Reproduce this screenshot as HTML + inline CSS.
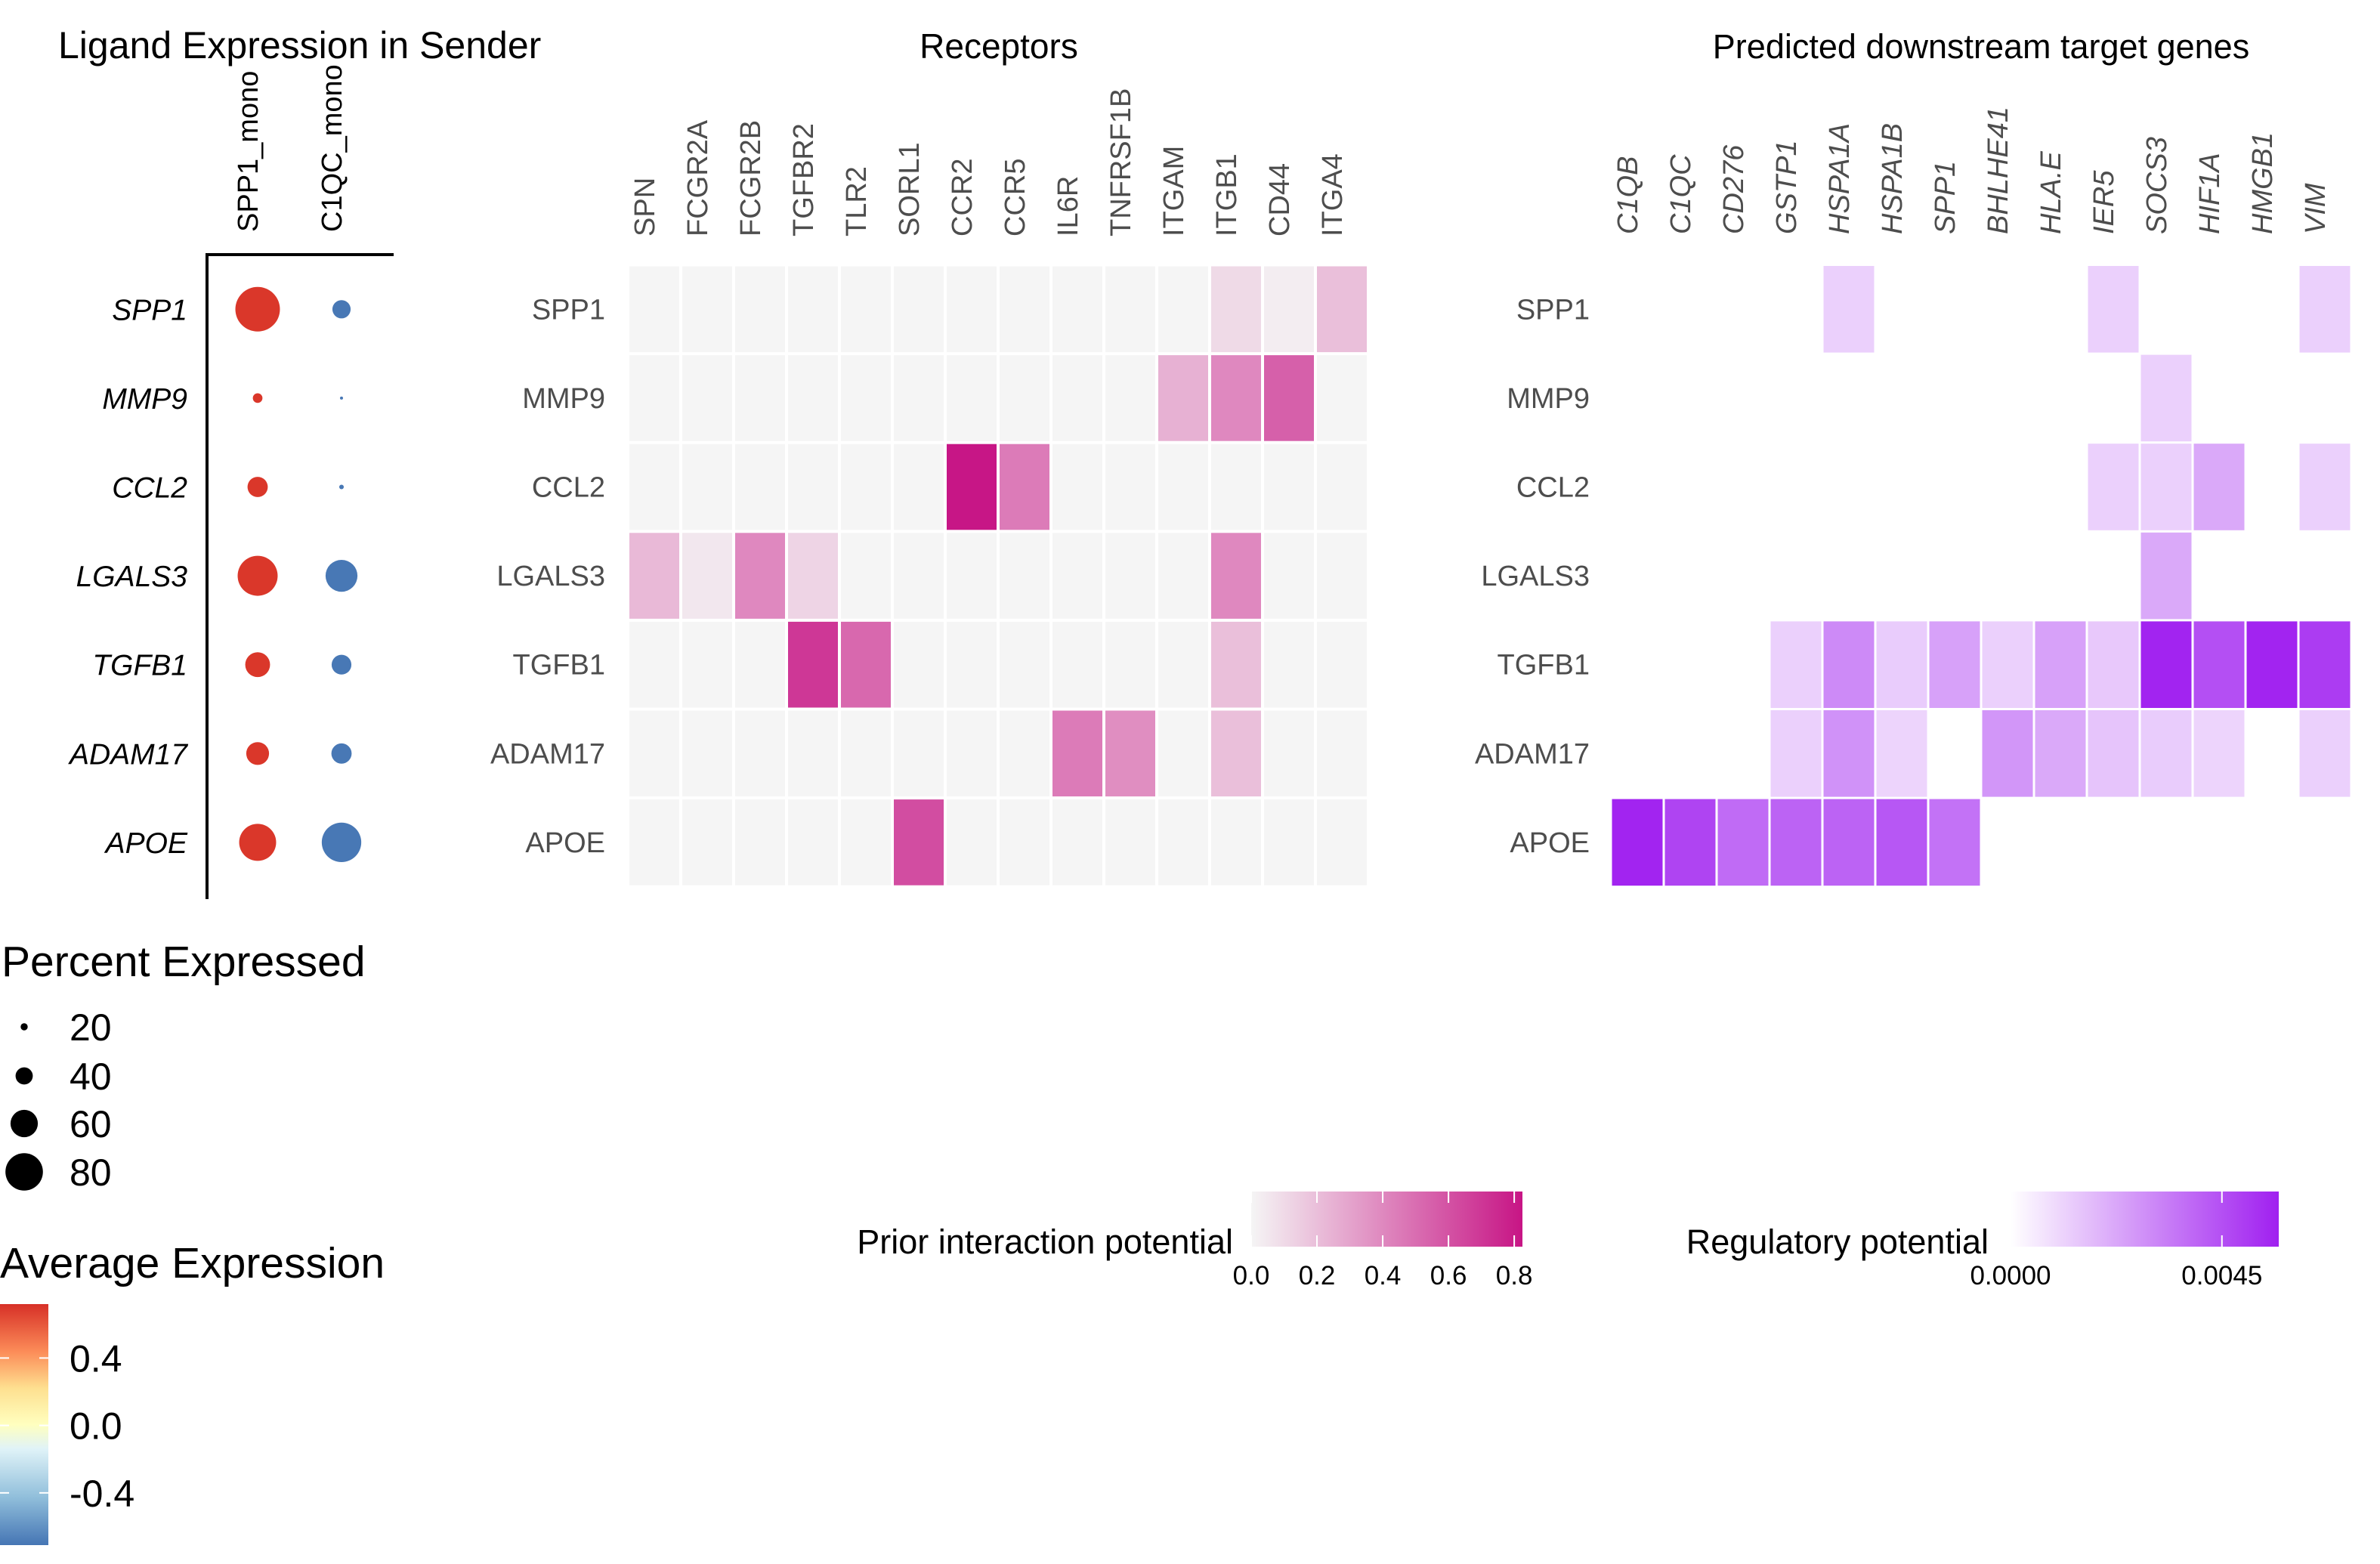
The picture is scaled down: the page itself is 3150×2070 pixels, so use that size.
<!DOCTYPE html>
<html><head><meta charset="utf-8"><style>
html,body{margin:0;padding:0;background:#fff;}
svg{display:block;font-family:"Liberation Sans",Arial,sans-serif;}
</style></head><body>
<svg id="chart" width="3150" height="2070" viewBox="0 0 3150 2070" xmlns="http://www.w3.org/2000/svg">
<defs>
<linearGradient id="gAvg" x1="0" y1="1" x2="0" y2="0">
<stop offset="0" stop-color="#4575b4"/><stop offset="0.2" stop-color="#91bfdb"/><stop offset="0.4" stop-color="#e0f3f8"/><stop offset="0.5" stop-color="#ffffbf"/><stop offset="0.65" stop-color="#fee090"/><stop offset="0.8" stop-color="#fc8d59"/><stop offset="1" stop-color="#d73027"/>
</linearGradient>
<linearGradient id="gPrior" x1="0" y1="0" x2="1" y2="0"><stop offset="0" stop-color="#f5f5f5"/><stop offset="1" stop-color="#c71585"/></linearGradient>
<linearGradient id="gReg" x1="0" y1="0" x2="1" y2="0"><stop offset="0" stop-color="#ffffff"/><stop offset="1" stop-color="#a020f0"/></linearGradient>
</defs>
<g id="root"></g>
</svg>
<script>
const ligands = ["SPP1","MMP9","CCL2","LGALS3","TGFB1","ADAM17","APOE"];
const senders = ["SPP1_mono","C1QC_mono"];
const pctSPP1mono = [94,25,46,85,55,51,79];
const pctC1QCmono = [42,12,15,69,45,46,84];
const avgSPP1mono = [0.7,0.7,0.7,0.7,0.7,0.7,0.7];
const avgC1QCmono = [-0.7,-0.7,-0.7,-0.7,-0.7,-0.7,-0.7];
const sizeLegendValues = [20,40,60,80];
const avgTicks = [0.4,0.0,-0.4];
const avgTickLabels = ["0.4","0.0","-0.4"];

const receptors = ["SPN","FCGR2A","FCGR2B","TGFBR2","TLR2","SORL1","CCR2","CCR5","IL6R","TNFRSF1B","ITGAM","ITGB1","CD44","ITGA4"];
const priorSPP1   = [0,0,0,0,0,0,0,0,0,0,0,0.1,0.03,0.2];
const priorMMP9   = [0,0,0,0,0,0,0,0,0,0,0.25,0.4,0.55,0];
const priorCCL2   = [0,0,0,0,0,0,0.82,0.45,0,0,0,0,0,0];
const priorLGALS3 = [0.22,0.05,0.4,0.12,0,0,0,0,0,0,0,0.4,0,0];
const priorTGFB1  = [0,0,0,0.7,0.52,0,0,0,0,0,0,0.2,0,0];
const priorADAM17 = [0,0,0,0,0,0,0,0,0.45,0.38,0,0.2,0,0];
const priorAPOE   = [0,0,0,0,0,0.62,0,0,0,0,0,0,0,0];
const priorTicks = [0,0.2,0.4,0.6,0.8];
const priorTickLabels = ["0.0","0.2","0.4","0.6","0.8"];
const priorMax = 0.825;

const targets = ["C1QB","C1QC","CD276","GSTP1","HSPA1A","HSPA1B","SPP1","BHLHE41","HLA.E","IER5","SOCS3","HIF1A","HMGB1","VIM"];
const regSPP1   = [null,null,null,null,0.0012,null,null,null,null,0.0012,null,null,null,0.0012];
const regMMP9   = [null,null,null,null,null,null,null,null,null,null,0.0012,null,null,null];
const regCCL2   = [null,null,null,null,null,null,null,null,null,0.0012,0.0012,0.0022,null,0.0012];
const regLGALS3 = [null,null,null,null,null,null,null,null,null,null,0.0022,null,null,null];
const regTGFB1  = [null,null,null,0.0012,0.0030,0.0013,0.0024,0.0012,0.0024,0.0014,0.0056,0.0045,0.0056,0.0050];
const regADAM17 = [null,null,null,0.0012,0.0028,0.0011,null,0.0027,0.0022,0.0015,0.0013,0.0011,null,0.0012];
const regAPOE   = [0.0056,0.0048,0.0038,0.0040,0.0040,0.0043,0.0036,null,null,null,null,null,null,null];
const regTicks = [0,0.0045];
const regTickLabels = ["0.0000","0.0045"];
const regMax = 0.00571;

const NS="http://www.w3.org/2000/svg";
const root=document.getElementById('root');
function mk(tag,attrs,parent,text){const e=document.createElementNS(NS,tag);for(const k in attrs)e.setAttribute(k,attrs[k]);if(text!==undefined)e.textContent=text;(parent||root).appendChild(e);return e;}
function lerpColor(a,b,t){t=Math.max(0,Math.min(1,t));const pa=[parseInt(a.substr(1,2),16),parseInt(a.substr(3,2),16),parseInt(a.substr(5,2),16)];const pb=[parseInt(b.substr(1,2),16),parseInt(b.substr(3,2),16),parseInt(b.substr(5,2),16)];return "rgb("+pa.map((v,i)=>Math.round(v+(pb[i]-v)*t)).join(",")+")";}
const rowY0=350.5, rowH=117.6;
function yRow(i){return rowY0+i*rowH;}
function yCenter(i){return rowY0+(i+0.5)*rowH;}

// ---- titles
let t;
t=mk('text',{x:77,y:77,'font-size':50,fill:'#000'},root,'Ligand Expression in Sender');


t=mk('text',{x:1322,y:77,'font-size':46,fill:'#000','text-anchor':'middle'},root,'Receptors');


t=mk('text',{x:2622,y:77,'font-size':45,fill:'#000','text-anchor':'middle'},root,'Predicted downstream target genes');



// ---- dot plot
const dotX=[341,452];
function dotD(p){return Math.max(3,0.67*p-4);}
const avgMin=-0.71, avgMax=0.72;
function avgColor(v){const stops=[[0,'#4575b4'],[0.2,'#91bfdb'],[0.4,'#e0f3f8'],[0.5,'#ffffbf'],[0.65,'#fee090'],[0.8,'#fc8d59'],[1,'#d73027']];let f=(v-avgMin)/(avgMax-avgMin);f=Math.max(0,Math.min(1,f));for(let i=1;i<stops.length;i++){if(f<=stops[i][0]){return lerpColor(stops[i-1][1],stops[i][1],(f-stops[i-1][0])/(stops[i][0]-stops[i-1][0]));}}return stops[stops.length-1][1];}
const dg=mk('g',{});


let ln=mk('line',{x1:274,y1:337,x2:274,y2:1190,stroke:'#000','stroke-width':4},dg);


ln=mk('line',{x1:272,y1:337,x2:521,y2:337,stroke:'#000','stroke-width':4},dg);


senders.forEach((s,j)=>{
  const x=dotX[j];
  const e=mk('text',{x:x,y:307,'font-size':38,fill:'#000',transform:'rotate(-90 '+x+' 307)'},dg,s);
  
  
});
const pcts=[pctSPP1mono,pctC1QCmono], avgs=[avgSPP1mono,avgC1QCmono];
ligands.forEach((l,i)=>{
  const e=mk('text',{x:248,y:yCenter(i)+14,'font-size':39,'font-style':'italic',fill:'#000','text-anchor':'end'},dg,l);
  
  
  for(let j=0;j<2;j++){
    const c=mk('circle',{cx:dotX[j],cy:yCenter(i),r:dotD(pcts[j][i])/2,fill:avgColor(avgs[j][i])},dg);
    
    
  }
});

// ---- receptor heatmap
const recX0=831, colW=70;
const priorRows=[priorSPP1,priorMMP9,priorCCL2,priorLGALS3,priorTGFB1,priorADAM17,priorAPOE];
const rg=mk('g',{});


receptors.forEach((r,j)=>{
  const x=recX0+(j+0.5)*colW;
  const e=mk('text',{x:x,y:313,'font-size':38,fill:'#4d4d4d',transform:'rotate(-90 '+x+' 313)'},rg,r);
  
  
});
ligands.forEach((l,i)=>{
  const e=mk('text',{x:801,y:yCenter(i)+13,'font-size':38,fill:'#4d4d4d','text-anchor':'end'},rg,l);
  
  
  priorRows[i].forEach((v,j)=>{
    const c=mk('rect',{x:recX0+j*colW+2,y:yRow(i)+2,width:colW-4,height:rowH-4,fill:lerpColor('#f5f5f5','#c71585',v/priorMax)},rg);
    
    
  });
});

// ---- target heatmap
const tgX0=2132;
const regRows=[regSPP1,regMMP9,regCCL2,regLGALS3,regTGFB1,regADAM17,regAPOE];
const tg=mk('g',{});


targets.forEach((r,j)=>{
  const x=tgX0+(j+0.5)*colW;
  const e=mk('text',{x:x,y:310,'font-size':38,'font-style':'italic',fill:'#4d4d4d',transform:'rotate(-90 '+x+' 310)'},tg,r);
  
  
});
ligands.forEach((l,i)=>{
  const e=mk('text',{x:2104,y:yCenter(i)+13,'font-size':38,fill:'#4d4d4d','text-anchor':'end'},tg,l);
  
  
  regRows[i].forEach((v,j)=>{
    if(v===null) return;
    const c=mk('rect',{x:tgX0+j*colW+1.5,y:yRow(i)+1.5,width:colW-3,height:rowH-3,fill:lerpColor('#ffffff','#a020f0',v/regMax)},tg);
    
    
  });
});

// ---- percent legend
const pl=mk('g',{});


t=mk('text',{x:2,y:1292,'font-size':57,fill:'#000'},pl,'Percent Expressed');


const legYs=[1359,1424,1487,1551];
sizeLegendValues.forEach((v,k)=>{
  const c=mk('circle',{cx:32,cy:legYs[k],r:Math.max(3.5,dotD(v)/2),fill:'#000'},pl);
  
  
  const e=mk('text',{x:92,y:legYs[k]+18,'font-size':50,fill:'#000'},pl,String(v));
  
  
});

// ---- average legend
const al=mk('g',{});


t=mk('text',{x:0,y:1691,'font-size':57,fill:'#000'},al,'Average Expression');


const avgBar=mk('rect',{x:0,y:1726,width:64,height:319,fill:'url(#gAvg)'},al);


function yAvg(v){return 2045-(v-avgMin)/(avgMax-avgMin)*319;}
avgTicks.forEach((v,k)=>{
  const y=yAvg(v);
  mk('line',{x1:0,y1:y,x2:12,y2:y,stroke:'#fff','stroke-width':2},al);
  mk('line',{x1:52,y1:y,x2:64,y2:y,stroke:'#fff','stroke-width':2},al);
  const e=mk('text',{x:92,y:y+18,'font-size':50,fill:'#000'},al,avgTickLabels[k]);
  
  
});

// ---- prior legend
const ppl=mk('g',{});


t=mk('text',{x:1632,y:1659,'font-size':45,fill:'#000','text-anchor':'end'},ppl,'Prior interaction potential');


const pb=mk('rect',{x:1656,y:1577,width:359,height:73,fill:'url(#gPrior)'},ppl);


function xPrior(v){return 1656+v/priorMax*359;}
priorTicks.forEach((v,k)=>{
  const x=xPrior(v);
  mk('line',{x1:x,y1:1577,x2:x,y2:1592,stroke:'#fff','stroke-width':2},ppl);
  mk('line',{x1:x,y1:1635,x2:x,y2:1650,stroke:'#fff','stroke-width':2},ppl);
  const e=mk('text',{x:x,y:1700,'font-size':35,fill:'#000','text-anchor':'middle'},ppl,priorTickLabels[k]);
  
  
});

// ---- regulatory legend
const rl=mk('g',{});


t=mk('text',{x:2632,y:1659,'font-size':45,fill:'#000','text-anchor':'end'},rl,'Regulatory potential');


const rb=mk('rect',{x:2661,y:1577,width:355,height:73,fill:'url(#gReg)'},rl);


function xReg(v){return 2661+v/regMax*355;}
regTicks.forEach((v,k)=>{
  const x=xReg(v);
  mk('line',{x1:x,y1:1577,x2:x,y2:1592,stroke:'#fff','stroke-width':2},rl);
  mk('line',{x1:x,y1:1635,x2:x,y2:1650,stroke:'#fff','stroke-width':2},rl);
  const e=mk('text',{x:x,y:1700,'font-size':35,fill:'#000','text-anchor':'middle'},rl,regTickLabels[k]);
  
  
});
</script>
</body></html>
